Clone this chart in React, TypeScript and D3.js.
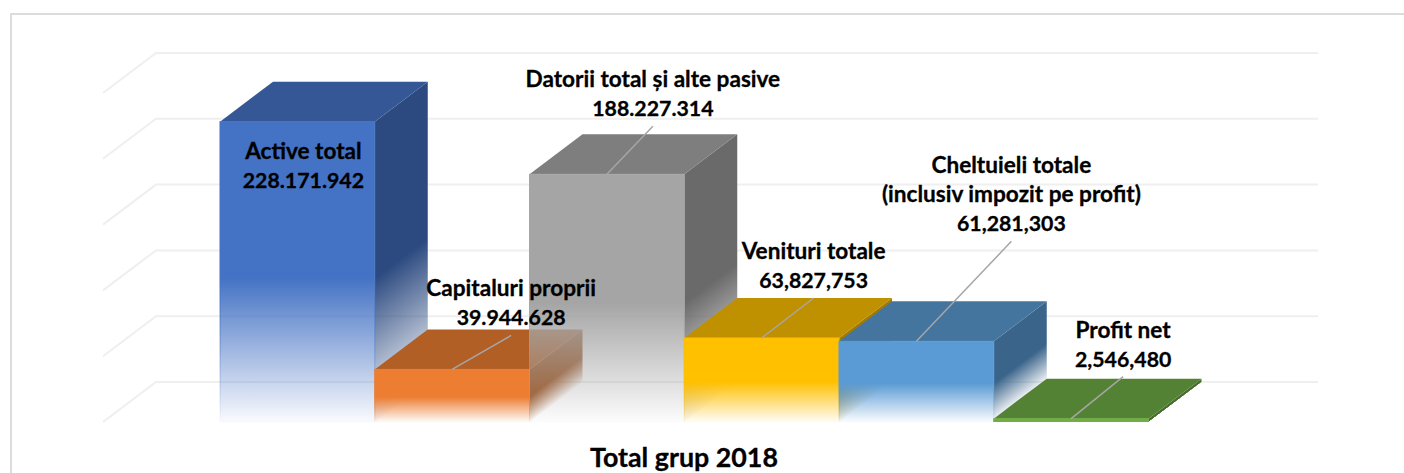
import React from 'react';
import * as d3 from 'd3';

const WIDTH = 1404;
const HEIGHT = 473;

// values as printed on the chart (thousands separators are mixed in the original)
const categories = ['Active total', 'Capitaluri proprii', 'Datorii total și alte pasive', 'Venituri totale', 'Cheltuieli totale', 'Profit net'];
const values = [228171942, 39944628, 188227314, 63827753, 61281303, 2546480];
const valueLabels = ['228.171.942', '39.944.628', '188.227.314', '63,827,753', '61,281,303', '2,546,480'];
const yTicks = [0, 50e6, 100e6, 150e6, 200e6, 250e6];

const frontColors = ['#4472c4', '#ed7d31', '#a5a5a5', '#ffc000', '#5b9bd5', '#70ad47'];
const topColors = ['#355795', '#b25f26', '#7e7e7e', '#bf9000', '#44759f', '#548235'];
const sideColors = ['#2c4a80', '#9e5522', '#6a6a6a', '#a27a00', '#3a648a', '#466e2c'];

// label text lines, centre offset from the front-top centre of the bar, and leader on/off
const labelLines = [
  ['Active total'],
  ['Capitaluri proprii'],
  ['Datorii total și alte pasive'],
  ['Venituri totale'],
  ['Cheltuieli totale', '(inclusiv impozit pe profit)'],
  ['Profit net'],
];
const labelDx = [6, 59, 46, 52, 95, 52];
const labelBottomDy = [66, -44, -58, -50, -110, -52];
const hasLeader = [false, true, true, true, true, true];

const DEPTH_X = 53;
const DEPTH_Y = 40;
const FADE_START = 0.52;

const x = d3.scaleBand<number>().domain(d3.range(categories.length)).range([220, 1148.5]).padding(0);
const y = d3.scaleLinear().domain([0, 250e6]).range([422, 93]);

const LINE_H = 29;
const FONT = 'Lato, "Open Sans", sans-serif';

const poly = (pts: number[][]) => d3.line()(pts as [number, number][]) + 'Z';

const fadeStops = (color: string, from: number) => (
  <>
    <stop offset={0} stopColor={color} stopOpacity={1} />
    <stop offset={from} stopColor={color} stopOpacity={1} />
    <stop offset={1} stopColor={color} stopOpacity={0.03} />
  </>
);

const App = () => {
  const y0 = y(0);
  const len = Math.hypot(DEPTH_X, DEPTH_Y);
  // side faces fade along the depth direction, so the gradient runs perpendicular to it
  const nx = DEPTH_Y / len;
  const ny = DEPTH_X / len;

  return (
    <svg width={WIDTH} height={HEIGHT} style={{ position: 'absolute', left: 0, top: 0, background: '#fff' }}>
      <defs>
        {values.map((v, i) => {
          const x1 = x(i)! + x.bandwidth();
          const v0 = (y0 - y(v)) * (1 - FADE_START);
          const d = v0 * (DEPTH_X / len);
          const dTop = (y0 - y(v)) * (DEPTH_X / len);
          return (
            <React.Fragment key={i}>
              <linearGradient id={`front-${i}`} x1="0" y1="0" x2="0" y2="1">
                {i === 5 ? fadeStops(frontColors[i], 1) : fadeStops(frontColors[i], FADE_START)}
              </linearGradient>
              <linearGradient
                id={`side-${i}`}
                gradientUnits="userSpaceOnUse"
                x1={x1 - nx * dTop}
                y1={y0 - ny * dTop}
                x2={x1}
                y2={y0}
              >
                {i === 5 ? fadeStops(sideColors[i], 1) : fadeStops(sideColors[i], 1 - d / dTop)}
              </linearGradient>
            </React.Fragment>
          );
        })}
      </defs>

      {/* chart frame, only top and left edges are in the crop */}
      <path d={`M11,${HEIGHT}V14H${WIDTH}`} fill="none" stroke="#dcdcdc" strokeWidth={2} />

      {/* gridlines: floor diagonal then back wall */}
      <g fill="none" stroke="#efefef" strokeWidth={2}>
        {yTicks.map(t => (
          <path key={t} d={`M103,${y(t)}L${103 + DEPTH_X},${y(t) - DEPTH_Y}H1318`} />
        ))}
      </g>

      {/* bars painted left to right so the faded fronts show what is behind */}
      {values.map((v, i) => {
        const x0 = x(i)!;
        const x1 = x0 + x.bandwidth();
        const top = y(v);
        return (
          <g key={i}>
            <path
              d={poly([[x1, top], [x1 + DEPTH_X, top - DEPTH_Y], [x1 + DEPTH_X, y0 - DEPTH_Y], [x1, y0]])}
              fill={`url(#side-${i})`}
            />
            <path
              d={poly([[x0, top], [x0 + DEPTH_X, top - DEPTH_Y], [x1 + DEPTH_X, top - DEPTH_Y], [x1, top]])}
              fill={topColors[i]}
            />
            <rect
              x={x0}
              y={top}
              width={x.bandwidth()}
              height={y0 - top}
              fill={`url(#front-${i})`}
              stroke={`url(#front-${i})`}
              strokeWidth={1}
            />
          </g>
        );
      })}

      {/* leaders */}
      {values.map((v, i) => {
        if (!hasLeader[i]) return null;
        const cx = x(i)! + x.bandwidth() / 2;
        const lx = cx + labelDx[i];
        const ly = y(v) + labelBottomDy[i] + 10;
        return <line key={i} x1={cx} y1={y(v)} x2={lx} y2={ly} stroke="#a6a6a6" strokeWidth={1.5} />;
      })}

      {/* data labels: names set a little larger than the digits, Lato runs narrower than the original face */}
      <g fontFamily={FONT} fontWeight={700} fontSize={21.3} fill="#000" stroke="#000" strokeWidth={0.3} textAnchor="middle">
        {values.map((v, i) => {
          const cx = x(i)! + x.bandwidth() / 2 + labelDx[i];
          const bottom = y(v) + labelBottomDy[i];
          const lines = [...labelLines[i], valueLabels[i]];
          return (
            <text key={i}>
              {lines.map((l, j) => (
                <tspan
                  key={j}
                  x={cx}
                  y={bottom - (lines.length - 1 - j) * LINE_H}
                  fontSize={j < lines.length - 1 ? 22.6 : 21.3}
                >
                  {l}
                </tspan>
              ))}
            </text>
          );
        })}
      </g>

      <text x={684} y={467} fontFamily={FONT} fontWeight={700} fontSize={26.8} fill="#000" stroke="#000" strokeWidth={0.3} textAnchor="middle">
        Total grup 2018
      </text>
    </svg>
  );
};

export default App;
